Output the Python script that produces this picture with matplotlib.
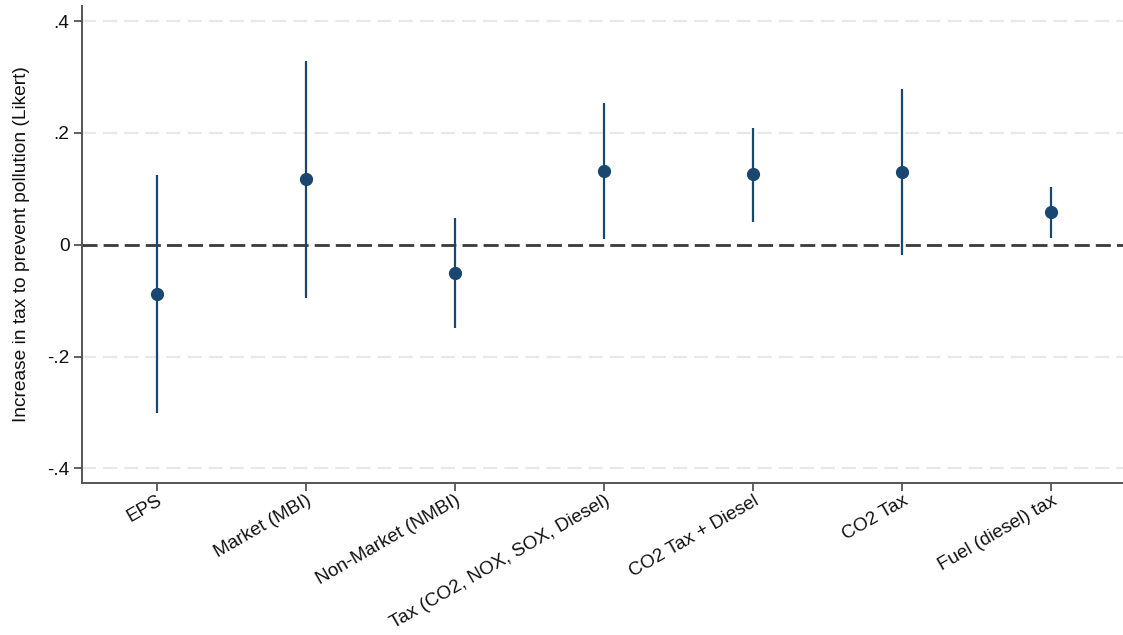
import matplotlib
matplotlib.use("Agg")
import matplotlib.pyplot as plt

plt.rcParams['font.family'] = ['Liberation Sans', 'DejaVu Sans']

categories = ["EPS", "Market (MBI)", "Non-Market (NMBI)", "Tax (CO2, NOX, SOX, Diesel)",
              "CO2 Tax + Diesel", "CO2 Tax", "Fuel (diesel) tax"]
estimates = [-0.088, 0.117, -0.050, 0.132, 0.126, 0.131, 0.059]
ci_low = [-0.301, -0.095, -0.149, 0.011, 0.041, -0.019, 0.013]
ci_high = [0.125, 0.328, 0.047, 0.254, 0.209, 0.278, 0.104]
yticks = [-0.4, -0.2, 0, 0.2, 0.4]
ytick_labels = ["-.4", "-.2", "0", ".2", ".4"]

navy = "#1a476f"
x = list(range(1, len(categories) + 1))

fig = plt.figure(figsize=(11.23, 6.35), dpi=100)
ax = fig.add_axes([82 / 1123, 1 - 483 / 635, (1126 - 82) / 1123, (483 - 6) / 635])

for yv in yticks:
    if yv != 0:
        ax.axhline(yv, color="#e8e8e8", lw=1.6, dashes=(6.3, 3.2), zorder=0)
ax.axhline(0, color="#3a3a3a", lw=2.0, dashes=(5.4, 2.2), zorder=1)

ax.vlines(x, ci_low, ci_high, color=navy, lw=1.6, zorder=2)
ax.plot(x, estimates, 'o', color=navy, ms=8.5, zorder=3)

ax.set_xlim(0.5, 7.5)
ax.set_ylim(-0.426, 0.427)
ax.set_yticks(yticks)
ax.set_yticklabels(ytick_labels, fontsize=13.8)
ax.set_xticks(x)
ax.set_xticklabels(categories, rotation=30, ha='right', rotation_mode='anchor', fontsize=13.6)
ax.tick_params(axis='both', direction='out', length=6, width=1.3, color="#555555", labelcolor="#111111")
ax.tick_params(axis='y', pad=3)
ax.tick_params(axis='x', pad=0.5)

for s in ['top', 'right']:
    ax.spines[s].set_visible(False)
for s in ['left', 'bottom']:
    ax.spines[s].set_color("#555555")
    ax.spines[s].set_linewidth(1.4)

ax.set_ylabel("Increase in tax to prevent pollution (Likert)", fontsize=13.8, color="#111111", labelpad=12)

fig.savefig("out.png", dpi=100)
